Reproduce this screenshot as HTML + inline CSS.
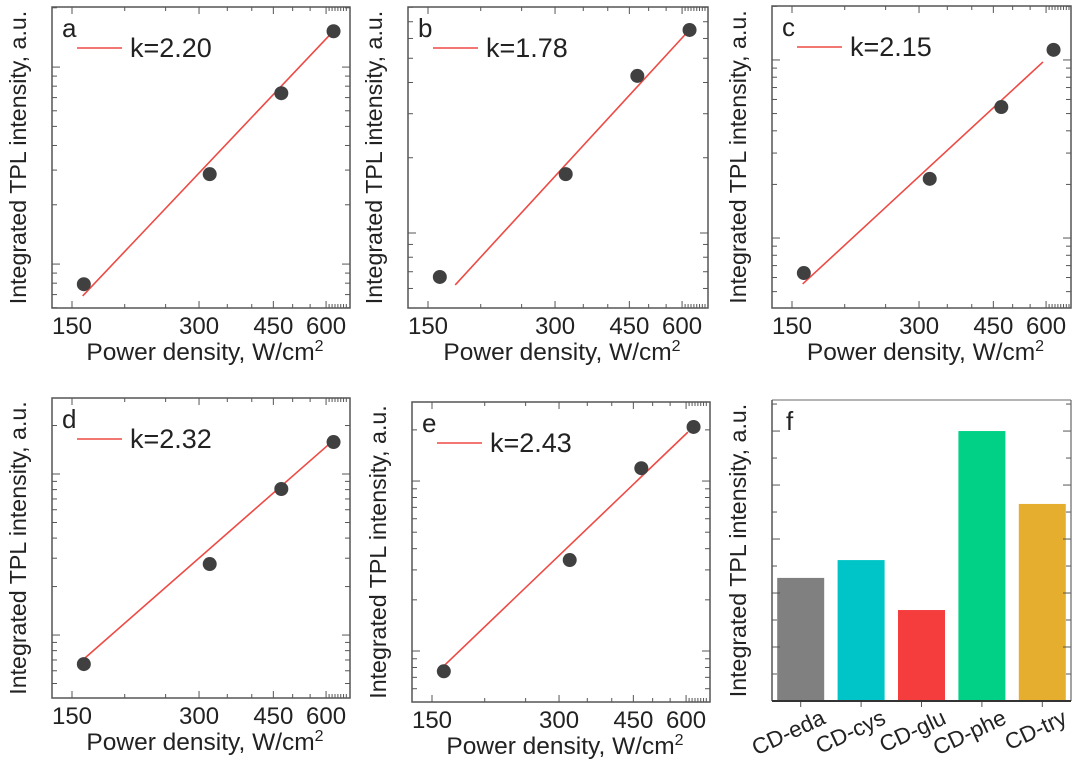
<!DOCTYPE html>
<html><head><meta charset="utf-8"><style>
html,body{margin:0;padding:0;background:#fff;}
svg text{font-family:"Liberation Sans",Arial,sans-serif;fill:#222;}
</style></head><body>
<svg id="fig" width="1080" height="764" viewBox="0 0 1080 764" xmlns="http://www.w3.org/2000/svg"></svg>
<script>
// ---- data ----
const panelLetters = ["a","b","c","d","e"];
const kLabels = ["k=2.20","k=1.78","k=2.15","k=2.32","k=2.43"];
const powerValues = [160, 318, 470, 625];
const seriesA = [0.79, 2.86, 7.37, 15.2];
const seriesB = [0.667, 1.72, 4.25, 6.49];
const seriesC = [0.636, 2.15, 5.44, 11.4];
const seriesD = [0.66, 2.76, 8.07, 15.8];
const seriesE = [0.76, 3.43, 11.9, 20.8];
const fitStartP = [159, 174, 159, 161, 159];
const fitEndP = [611, 615, 590, 606, 606];
const fitStartY = [0.689, 0.62, 0.552, 0.72, 0.805];
const fitEndY = [14.5, 6.31, 9.75, 15.1, 19.4];
const xTickLabels = [150, 300, 450, 600];
const yLogMin = [-0.223, -0.30, -0.393, -0.391, -0.30];
const yLogMax = [1.305, 0.904, 1.303, 1.472, 1.465];
const barCategories = ["CD-eda","CD-cys","CD-glu","CD-phe","CD-try"];
const barValues = [4.56, 5.22, 3.37, 10.0, 7.3];
const barColors = ["#808080","#00c5c8","#f63d3d","#00d187","#e6ae2e"];
const barYMax = 11.15;

const NS="http://www.w3.org/2000/svg";
const svg=document.getElementById('fig');
function mk(tag,attrs,parent){const e=document.createElementNS(NS,tag);for(const k in attrs)e.setAttribute(k,attrs[k]);(parent||svg).appendChild(e);return e;}

const boxes=[{L:52,T:7,R:350,B:308},{L:408,T:7,R:708,B:308},{L:772,T:6,R:1071,B:308},{L:52,T:398,R:350,B:698},{L:412,T:402,R:710,B:702}];
const allSeries=[seriesA,seriesB,seriesC,seriesD,seriesE];

boxes.forEach((bx,i)=>{
  const g=mk('g',{});
  
  
  const xs=p=>bx.L+20+422*Math.log10(p/150);
  const ys=v=>bx.B-(Math.log10(v)-yLogMin[i])/(yLogMax[i]-yLogMin[i])*(bx.B-bx.T);
  const fr=mk('rect',{x:bx.L,y:bx.T,width:bx.R-bx.L,height:bx.B-bx.T,fill:'none',stroke:'#555','stroke-width':1.5},g);
  
  
  const xt=[];
  for(let p=150;p<=600;p+=50)xt.push(p);
  for(let p=610;p<=680;p+=10)xt.push(p);
  xt.forEach(p=>{const x=xs(p);if(x>bx.R-1)return;const len=xTickLabels.includes(p)?7:4;
    mk('line',{x1:x,y1:bx.B,x2:x,y2:bx.B-len,stroke:'#555','stroke-width':1},g);
    mk('line',{x1:x,y1:bx.T,x2:x,y2:bx.T+len,stroke:'#555','stroke-width':1},g);});
  xTickLabels.forEach(p=>{const t=mk('text',{x:xs(p),y:bx.B+26,'font-size':24,'text-anchor':'middle'},g);t.textContent=p;
    });
  for(let d=-2;d<=2;d++){for(let m=1;m<=9;m++){const v=m*Math.pow(10,d);const lv=Math.log10(v);
    if(lv<yLogMin[i]||lv>yLogMax[i])continue;const y=ys(v);const len=m===1?8:5;
    mk('line',{x1:bx.L,y1:y,x2:bx.L+len,y2:y,stroke:'#555','stroke-width':1},g);
    mk('line',{x1:bx.R,y1:y,x2:bx.R-len,y2:y,stroke:'#555','stroke-width':1},g);}}
  const fl=mk('line',{x1:xs(fitStartP[i]),y1:ys(fitStartY[i]),x2:xs(fitEndP[i]),y2:ys(fitEndY[i]),stroke:'#ee4a44','stroke-width':1.6},g);
  
  
  allSeries[i].forEach((v,j)=>{const c=mk('circle',{cx:xs(powerValues[j]),cy:ys(v),r:7,fill:'#404040'},g);
    
    });
  const lt=mk('text',{x:bx.L+10,y:bx.T+30,'font-size':26},g);lt.textContent=panelLetters[i];
  
  const ll=mk('line',{x1:bx.L+25,y1:bx.T+41,x2:bx.L+70,y2:bx.T+41,stroke:'#ee4a44','stroke-width':1.6},g);
  
  const lk=mk('text',{x:bx.L+78,y:bx.T+50,'font-size':27},g);lk.textContent=kLabels[i];
  
  const cy=(bx.T+bx.B)/2;
  const yt=mk('text',{x:0,y:0,'font-size':23.2,'text-anchor':'middle',transform:`translate(${bx.L-26},${cy}) rotate(-90)`},g);
  yt.textContent='Integrated TPL intensity, a.u.';
  
  const xtt=mk('text',{x:(bx.L+bx.R)/2+4,y:bx.B+52,'font-size':24.5,'text-anchor':'middle'},g);
  xtt.innerHTML='Power density, W/cm<tspan dy="-9" font-size="16">2</tspan>';
  
});

// ---- panel f ----
(function(){
  const bx={L:772,T:400,R:1071,B:701};
  const g=mk('g',{});
  
  
  const ys=v=>bx.B-v/barYMax*(bx.B-bx.T);
  const n=barCategories.length, slot=(bx.R-bx.L)/n;
  const xc=j=>bx.L+slot*(j+0.5)+ (j-2)*0.6;
  barCategories.forEach((c,j)=>{
    const y=ys(barValues[j]);
    const r=mk('rect',{x:xc(j)-23.5,y:y,width:47,height:bx.B-y,fill:barColors[j]},g);
    
    
    mk('line',{x1:xc(j),y1:bx.B,x2:xc(j),y2:bx.B+6,stroke:'#555','stroke-width':1},g);
    const t=mk('text',{x:0,y:0,'font-size':22.5,'text-anchor':'end',transform:`translate(${xc(j)+26},${bx.B+22}) rotate(-25)`},g);
    t.textContent=c;
    
    
  });
  for(let v=1;v<=barYMax;v++){const y=ys(v);const len=v%2===0?8:5;
    mk('line',{x1:bx.L,y1:y,x2:bx.L+len,y2:y,stroke:'#555','stroke-width':1},g);
    mk('line',{x1:bx.R,y1:y,x2:bx.R-len,y2:y,stroke:'#555','stroke-width':1},g);}
  mk('line',{x1:bx.L,y1:bx.T,x2:bx.R,y2:bx.T,stroke:'#888','stroke-width':1.2},g);
  mk('line',{x1:bx.R,y1:bx.T,x2:bx.R,y2:bx.B,stroke:'#666','stroke-width':1.2},g);
  mk('line',{x1:bx.L,y1:bx.T,x2:bx.L,y2:bx.B,stroke:'#555','stroke-width':1.5},g);
  mk('line',{x1:bx.L,y1:bx.B,x2:bx.R,y2:bx.B,stroke:'#333','stroke-width':2},g);
  const lt=mk('text',{x:bx.L+14,y:bx.T+30,'font-size':26},g);lt.textContent='f';
  
  const yt=mk('text',{x:0,y:0,'font-size':23.2,'text-anchor':'middle',transform:`translate(${bx.L-26},${(bx.T+bx.B)/2}) rotate(-90)`},g);
  yt.textContent='Integrated TPL intensity, a.u.';
  
})();
</script>
</body></html>
